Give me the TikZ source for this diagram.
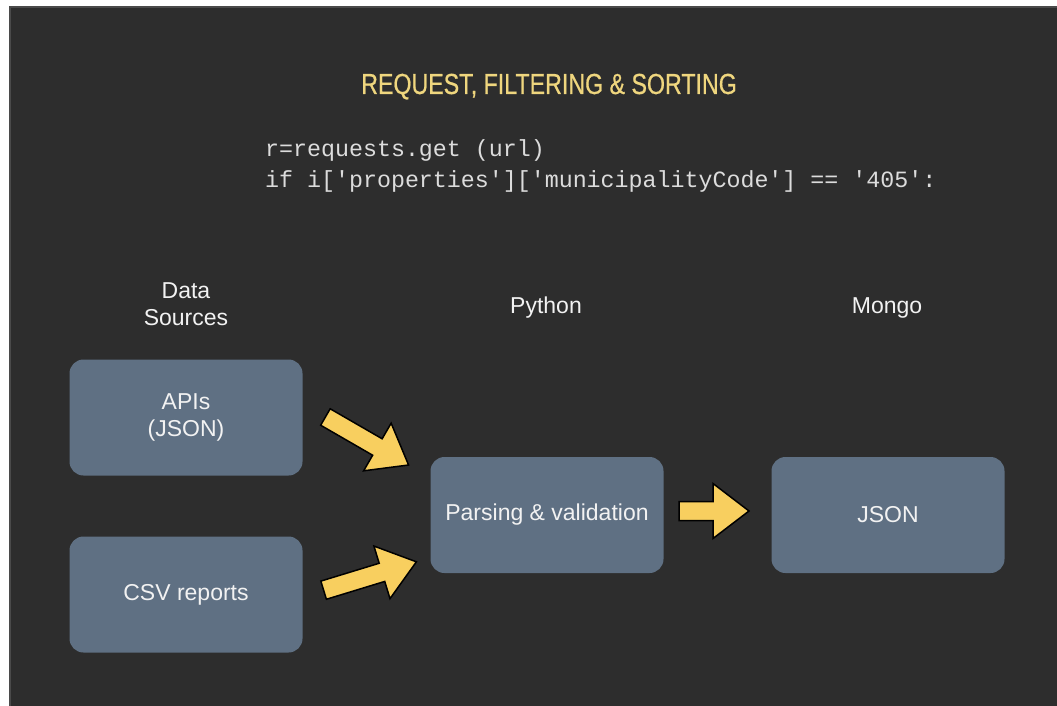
\documentclass[tikz,border=0pt]{standalone}
\usepackage{fontspec}
\setmainfont{Liberation Sans}
\setmonofont{Liberation Mono}
\newfontfamily\titlefont[FakeStretch=0.8,FakeBold=0.6]{Liberation Sans}
\usepackage{tikz}
\definecolor{bgdark}{HTML}{2D2D2D}
\definecolor{bgedge}{HTML}{4A4A4A}
\definecolor{boxfill}{HTML}{5F7083}
\definecolor{arrowyellow}{HTML}{F8CF5F}
\definecolor{titleyellow}{HTML}{EFD67E}
\definecolor{labelwhite}{HTML}{F2F2F2}
\definecolor{codegray}{HTML}{DCDCDC}
\newcommand{\boxfont}{\fontsize{23}{27}\selectfont}

\begin{document}
\begin{tikzpicture}[x=1pt,y=-1pt,
  stagebox/.style={draw=none, fill=boxfill, rounded corners=14pt, minimum width=233pt,
    minimum height=116pt, text=labelwhite, align=center, font=\boxfont},
  header/.style={text=labelwhite, align=center, font=\boxfont, inner sep=0pt},
  codeline/.style={text=codegray, anchor=base west, inner sep=0pt, font=\ttfamily\fontsize{23.3}{27}\selectfont},
  pics/fatarrow/.style={code={
    \filldraw[fill=arrowyellow, draw=black, line width=1.5pt, line join=miter]
      ({-#1/2},-9.5) -- ({#1/2-36},-9.5) -- ({#1/2-36},-27.5) -- ({#1/2},0)
      -- ({#1/2-36},27.5) -- ({#1/2-36},9.5) -- ({-#1/2},9.5) -- cycle;
  }}]
\useasboundingbox (0,0) rectangle (1057,706);
\fill[white] (0,0) rectangle (1057,706);
\filldraw[fill=bgdark, draw=bgedge, line width=2pt] (10,7) rectangle (1058,707);

% title and code
\node[text=titleyellow, anchor=base, inner sep=0pt, font=\titlefont\fontsize{29}{33}\selectfont] (title) at (549,94) {REQUEST, FILTERING \& SORTING};
\node[codeline] (codeA) at (265,157) {r=requests.get (url)};
\node[codeline] (codeB) at (265,187) {if i['properties']['municipalityCode'] == '405':};

% column headers
\node[header] (lblsrc) at (186,304) {Data\\Sources};
\node[header, anchor=base] (lblpy) at (546,313) {Python};
\node[header, anchor=base] (lblmongo) at (887,313) {Mongo};

% stages
\node[stagebox] (apis) at (186,417.5) {APIs\\(JSON)};
\node[stagebox] (csv) at (186,594.5) {CSV reports};
\node[stagebox] (parse) at (547,515) {Parsing \& validation};
\node[stagebox] (mongojson) at (888,515) {JSON};

% big arrows
\pic[rotate=-30] at (367,441) {fatarrow=96};
\pic[rotate=17] at (370,576) {fatarrow=97};
\pic at (714,511) {fatarrow=70};

\end{tikzpicture}
\end{document}
